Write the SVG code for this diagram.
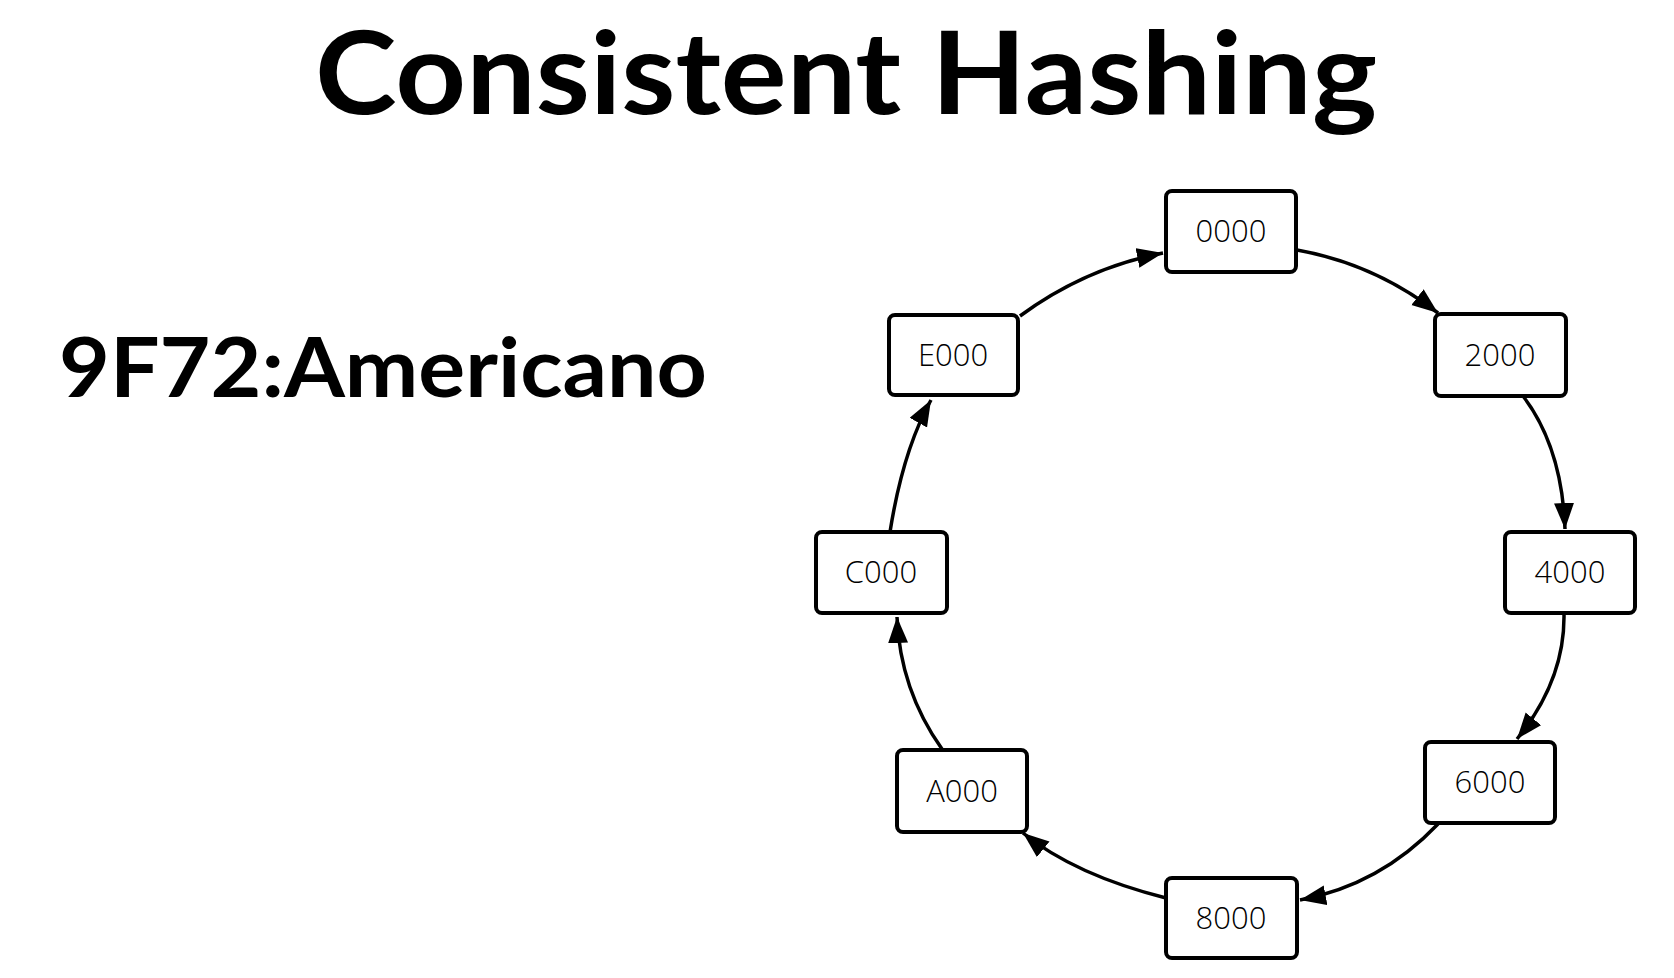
<svg xmlns="http://www.w3.org/2000/svg" width="1674" height="978" viewBox="0 0 1674 978">
<style>
.title{font-family:Lato,"Open Sans","Liberation Sans",sans-serif;font-weight:bold;fill:#000}
.box{fill:#fff;stroke:#000;stroke-width:4;stroke-linejoin:round}
.lbl{font-family:"Open Sans","Liberation Sans",sans-serif;font-weight:300;font-size:31px;fill:#000;text-anchor:middle}
.edge{fill:none;stroke:#000;stroke-width:3.5;marker-end:url(#arr)}
</style>
<defs>
<marker id="arr" markerUnits="userSpaceOnUse" markerWidth="28" markerHeight="22" refX="26" refY="10" orient="auto">
<path d="M0,0 L26,10 L0,20 z" fill="#000"/>
</marker>
</defs>
<rect width="1674" height="978" fill="#fff"/>
<text class="title" x="315" y="114" font-size="114" textLength="1062" lengthAdjust="spacingAndGlyphs">Consistent Hashing</text>
<text class="title" x="59" y="397" font-size="83" textLength="648" lengthAdjust="spacingAndGlyphs">9F72:Americano</text>
<g id="connectors">
<path class="edge" d="M1020,316 Q1085,268 1163,253"/>
<path class="edge" d="M1297,250 Q1375,264 1438,313"/>
<path class="edge" d="M1523,396 Q1562,447 1565,529"/>
<path class="edge" d="M1564,614 Q1565,680 1517,739"/>
<path class="edge" d="M1438,824 Q1380,885 1300,900"/>
<path class="edge" d="M1166,898 Q1075,875 1023,833"/>
<path class="edge" d="M942,749 Q900,690 897,617"/>
<path class="edge" d="M890,532 Q903,450 931,400"/>
</g>
<g id="n0000"><rect class="box" x="1166" y="191" width="130" height="81" rx="6"/><text class="lbl" x="1231" y="242">0000</text></g>
<g id="n2000"><rect class="box" x="1435" y="314" width="131" height="82" rx="6"/><text class="lbl" x="1500" y="366">2000</text></g>
<g id="n4000"><rect class="box" x="1505" y="532" width="130" height="81" rx="6"/><text class="lbl" x="1570" y="583">4000</text></g>
<g id="n6000"><rect class="box" x="1425" y="742" width="130" height="81" rx="6"/><text class="lbl" x="1490" y="793">6000</text></g>
<g id="n8000"><rect class="box" x="1166" y="878" width="131" height="80" rx="6"/><text class="lbl" x="1231" y="929">8000</text></g>
<g id="nA000"><rect class="box" x="897" y="750" width="130" height="82" rx="6"/><text class="lbl" x="962" y="802">A000</text></g>
<g id="nC000"><rect class="box" x="816" y="532" width="131" height="81" rx="6"/><text class="lbl" x="881" y="583">C000</text></g>
<g id="nE000"><rect class="box" x="889" y="315" width="129" height="80" rx="6"/><text class="lbl" x="953" y="366">E000</text></g>
</svg>
